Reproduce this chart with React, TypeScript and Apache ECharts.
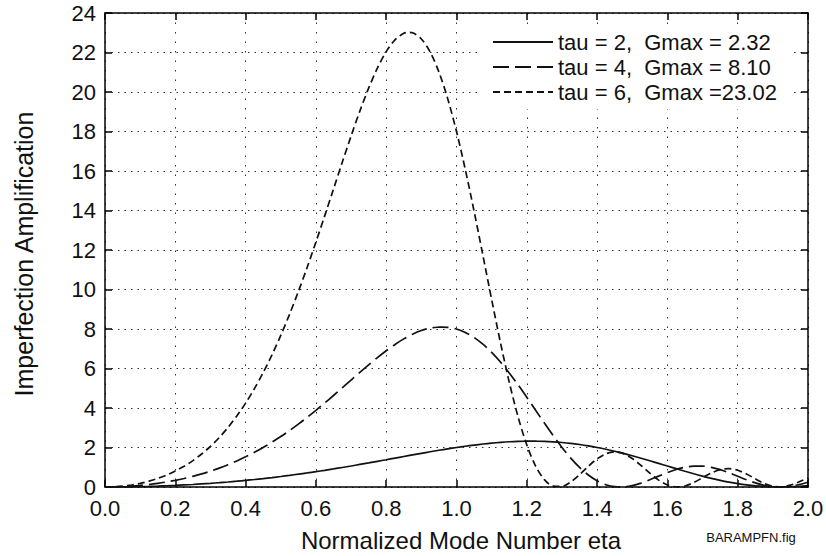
import React, { useEffect, useRef } from "react";
import * as echarts from "echarts";

// Normalized mode number (shared abscissa for all curves)
const eta = [
  0, 0.025, 0.05, 0.075, 0.1, 0.125, 0.15, 0.175, 0.2, 0.225,
  0.25, 0.275, 0.3, 0.325, 0.35, 0.375, 0.4, 0.425, 0.45, 0.475,
  0.5, 0.525, 0.55, 0.575, 0.6, 0.625, 0.65, 0.675, 0.7, 0.725,
  0.75, 0.775, 0.8, 0.825, 0.85, 0.875, 0.9, 0.925, 0.95, 0.975,
  1.0, 1.025, 1.05, 1.075, 1.1, 1.125, 1.15, 1.175, 1.2, 1.225,
  1.25, 1.275, 1.3, 1.325, 1.35, 1.375, 1.4, 1.425, 1.45, 1.475,
  1.5, 1.525, 1.55, 1.575, 1.6, 1.625, 1.65, 1.675, 1.7, 1.725,
  1.75, 1.775, 1.8, 1.825, 1.85, 1.875, 1.9, 1.925, 1.95, 1.975,
  2.0,
];

// Imperfection amplification for tau = 2
const ampTau2 = [
  0, 0.001, 0.005, 0.011, 0.02, 0.031, 0.045, 0.062, 0.081, 0.103,
  0.127, 0.155, 0.185, 0.218, 0.254, 0.293, 0.335, 0.379, 0.427, 0.478,
  0.532, 0.589, 0.649, 0.712, 0.777, 0.845, 0.916, 0.989, 1.064, 1.142,
  1.22, 1.3, 1.381, 1.463, 1.544, 1.625, 1.705, 1.783, 1.859, 1.931,
  2.0, 2.064, 2.123, 2.176, 2.222, 2.26, 2.29, 2.31, 2.318, 2.318,
  2.31, 2.288, 2.254, 2.209, 2.151, 2.082, 2.002, 1.911, 1.81, 1.7,
  1.582, 1.458, 1.328, 1.196, 1.062, 0.928, 0.797, 0.67, 0.549, 0.437,
  0.335, 0.245, 0.167, 0.104, 0.055, 0.022, 0.004, 0.0, 0.011, 0.033,
  0.067,
];

// Imperfection amplification for tau = 4
const ampTau4 = [
  0, 0.005, 0.02, 0.045, 0.081, 0.128, 0.185, 0.255, 0.337, 0.432,
  0.54, 0.664, 0.802, 0.957, 1.129, 1.318, 1.526, 1.754, 2.0, 2.267,
  2.553, 2.858, 3.182, 3.524, 3.881, 4.252, 4.633, 5.022, 5.413, 5.803,
  6.185, 6.553, 6.899, 7.218, 7.5, 7.738, 7.924, 8.045, 8.095, 8.085,
  8.0, 7.826, 7.569, 7.23, 6.814, 6.327, 5.777, 5.178, 4.543, 3.89,
  3.237, 2.602, 2.004, 1.462, 0.992, 0.606, 0.313, 0.117, 0.017, 0.006,
  0.071, 0.197, 0.364, 0.549, 0.73, 0.886, 1.0, 1.059, 1.057, 0.994,
  0.877, 0.721, 0.544, 0.365, 0.207, 0.086, 0.016, 0.002, 0.042, 0.127,
  0.241,
];

// Imperfection amplification for tau = 6
const ampTau6 = [
  0, 0.011, 0.045, 0.103, 0.185, 0.294, 0.432, 0.602, 0.807, 1.05,
  1.337, 1.671, 2.059, 2.505, 3.014, 3.593, 4.246, 4.977, 5.791, 6.69,
  7.675, 8.744, 9.893, 11.115, 12.399, 13.728, 15.084, 16.441, 17.768, 19.033,
  20.194, 21.212, 22.042, 22.643, 22.972, 22.996, 22.685, 22.026, 21.013, 19.66,
  18.0, 16.079, 13.966, 11.74, 9.491, 7.317, 5.312, 3.56, 2.128, 1.061,
  0.371, 0.043, 0.028, 0.252, 0.624, 1.046, 1.424, 1.684, 1.776, 1.689,
  1.443, 1.09, 0.7, 0.35, 0.103, 0.002, 0.052, 0.226, 0.469, 0.708,
  0.877, 0.928, 0.847, 0.658, 0.414, 0.185, 0.035, 0.004, 0.093, 0.263,
  0.452,
];

// Duration parameter, peak amplification and where it occurs
const tau = [2, 4, 6];
const gmax = [2.32, 8.1, 23.02];
const peakEta = [1.2125, 0.96, 0.8625];

const curves = [ampTau2, ampTau4, ampTau6];
const dashTypes: any[] = ["solid", [16, 6], [7, 4]];

const FONT = '"Liberation Sans", Arial, Helvetica, sans-serif';
const INK = "#111";

function curvePoints(i: number): number[][] {
  const pts = eta.map((e, k) => [e, curves[i][k]]);
  pts.push([peakEta[i], gmax[i]]);
  pts.sort((a, b) => a[0] - b[0]);
  return pts;
}

function seriesName(i: number): string {
  return `tau = ${tau[i]},  Gmax =${gmax[i].toFixed(2).padStart(5, " ")}`;
}

export default function App() {
  const ref = useRef<HTMLDivElement>(null);

  useEffect(() => {
    if (!ref.current) return;
    const chart = echarts.init(ref.current, undefined, { renderer: "svg" });

    const axisLine = { show: true, onZero: false, lineStyle: { color: "#000", width: 1.5 } };
    const axisTick = { show: true, inside: true, length: 7, lineStyle: { color: "#000", width: 1.5 } };

    chart.setOption({
      animation: false,
      backgroundColor: "#fff",
      grid: {
        left: 105,
        right: 18,
        top: 13,
        bottom: 69,
        containLabel: false,
        outerBoundsMode: "none",
      },
      legend: {
        orient: "vertical",
        left: 478,
        top: 25,
        backgroundColor: "#fff",
        padding: [6, 16, 6, 14],
        itemWidth: 60,
        itemHeight: 14,
        itemGap: 3,
        selectedMode: false,
        itemStyle: { opacity: 0 },
        textStyle: { fontSize: 22, color: INK, fontFamily: FONT, lineHeight: 22 },
        data: tau.map((_, i) => seriesName(i)),
      },
      xAxis: [
        {
          type: "value",
          position: "bottom",
          min: 0,
          max: 2,
          interval: 0.2,
          axisLine,
          axisTick,
          axisLabel: {
            color: INK,
            fontSize: 22,
            fontFamily: FONT,
            margin: 10,
            formatter: (v: number) => v.toFixed(1),
          },
          splitLine: { show: true, lineStyle: { color: "#333", width: 1, type: [1.5, 8] } },
        },
        {
          type: "value",
          position: "top",
          min: 0,
          max: 2,
          interval: 0.2,
          axisLine,
          axisTick,
          axisLabel: { show: false },
          splitLine: { show: false },
        },
      ],
      yAxis: [
        {
          type: "value",
          position: "left",
          min: 0,
          max: 24,
          interval: 2,
          axisLine,
          axisTick,
          axisLabel: { color: INK, fontSize: 22, fontFamily: FONT, margin: 9 },
          splitLine: { show: true, lineStyle: { color: "#333", width: 1, type: [1.5, 5] } },
        },
        {
          type: "value",
          position: "right",
          min: 0,
          max: 24,
          interval: 2,
          z: 10,
          axisLine,
          axisTick,
          axisLabel: { show: false },
          splitLine: { show: false },
        },
      ],
      series: tau.map((_, i) => ({
        type: "line",
        name: seriesName(i),
        xAxisIndex: 0,
        yAxisIndex: 0,
        data: curvePoints(i),
        symbol: "none",
        smooth: 0.3,
        clip: true,
        lineStyle: { color: INK, width: 1.7, type: dashTypes[i] },
        itemStyle: { color: INK },
      })),
      graphic: [
        {
          type: "text",
          x: 461,
          y: 540,
          style: {
            text: "Normalized Mode Number eta",
            fontSize: 24,
            fontFamily: FONT,
            fill: INK,
            align: "center",
            verticalAlign: "middle",
          },
        },
        {
          type: "text",
          x: 24,
          y: 254,
          rotation: Math.PI / 2,
          style: {
            text: "Imperfection Amplification",
            fontSize: 25,
            fontFamily: FONT,
            fill: INK,
            align: "center",
            verticalAlign: "middle",
          },
        },
        {
          type: "text",
          x: 751,
          y: 537,
          style: {
            text: "BARAMPFN.fig",
            fontSize: 13,
            fontFamily: FONT,
            fill: INK,
            align: "center",
            verticalAlign: "middle",
          },
        },
      ],
    });

    return () => chart.dispose();
  }, []);

  return (
    <div
      ref={ref}
      style={{ position: "fixed", left: 0, top: 0, width: 826, height: 556, background: "#fff" }}
    />
  );
}
